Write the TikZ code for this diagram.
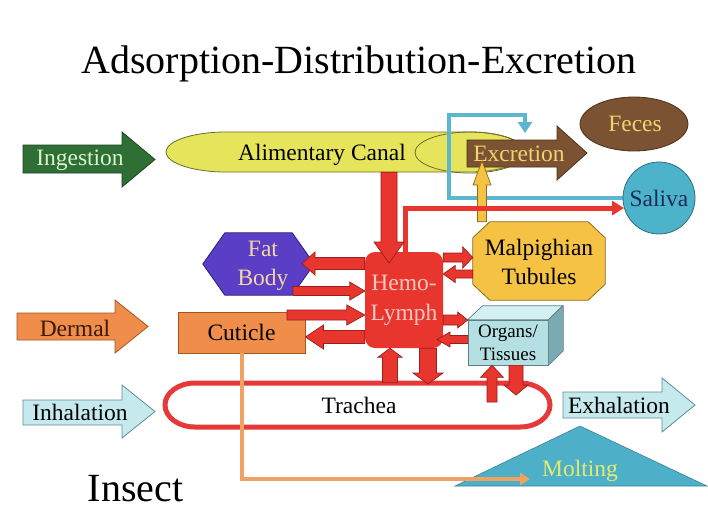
\documentclass[tikz,border=0pt]{standalone}
\usepackage{fontspec}
\setmainfont{Liberation Serif}
\usetikzlibrary{calc,arrows.meta}
\definecolor{hemored}{HTML}{E8352D}
\definecolor{arrdark}{HTML}{9A1E1A}
\definecolor{canalY}{HTML}{E5E45A}
\definecolor{canalD}{HTML}{6E6B2E}
\definecolor{brownF}{HTML}{7B5232}
\definecolor{brownD}{HTML}{4E3218}
\definecolor{brownT}{HTML}{F4D26E}
\definecolor{salB}{HTML}{4DB3CB}
\definecolor{salD}{HTML}{2D6E80}
\definecolor{salT}{HTML}{1B2C55}
\definecolor{malpY}{HTML}{F5C244}
\definecolor{malpD}{HTML}{8C6A18}
\definecolor{fatP}{HTML}{5A3EC6}
\definecolor{fatD}{HTML}{2E1E7A}
\definecolor{fatT}{HTML}{F2D7A6}
\definecolor{cutO}{HTML}{F08D4A}
\definecolor{cutD}{HTML}{A4561E}
\definecolor{orgF}{HTML}{B4E0E4}
\definecolor{orgT}{HTML}{D4F0F2}
\definecolor{orgS}{HTML}{7BABB2}
\definecolor{orgD}{HTML}{5C8288}
\definecolor{ingG}{HTML}{2F6F35}
\definecolor{ingD}{HTML}{1C4420}
\definecolor{ingT}{HTML}{D9F3CF}
\definecolor{dermT}{HTML}{3A1A0A}
\definecolor{inhC}{HTML}{C6E9ED}
\definecolor{inhD}{HTML}{5E8E95}
\definecolor{moltC}{HTML}{4DB0C8}
\definecolor{moltT}{HTML}{E4EA70}
\definecolor{orline}{HTML}{F0A262}
\definecolor{cyanline}{HTML}{5BB7CF}
\definecolor{trachR}{HTML}{E63A3A}
\definecolor{hemoT}{HTML}{F8C8C0}
\tikzset{
  lbl/.style={font=\fontsize{23.5pt}{29pt}\selectfont, inner sep=0pt, align=center},
  smalllbl/.style={font=\fontsize{19pt}{23pt}\selectfont, inner sep=0pt, align=center},
  anchorbox/.style={inner sep=0pt, minimum width=#1},
  blockarr/.style={fill=hemored, draw=arrdark, line width=0.7pt, line join=miter},
  yelarr/.style={fill=malpY, draw=malpD, line width=0.7pt, line join=miter},
  bigarr/.style={line width=0.8pt, line join=miter},
}
\newcommand\barrow[6][]{%
  \coordinate (ba) at (#2);
  \coordinate (bb) at (#3);
  \coordinate (bc) at ($(bb)!#6!(ba)$);
  \draw[blockarr,#1] ($(ba)!#4!90:(bb)$) -- ($(bc)!#4!90:(bb)$) -- ($(bc)!#5!90:(bb)$) -- (bb)
     -- ($(bc)!#5!-90:(bb)$) -- ($(bc)!#4!-90:(bb)$) -- ($(ba)!#4!-90:(bb)$) -- cycle;}
\begin{document}
\begin{tikzpicture}[x=1pt,y=-1pt]
\useasboundingbox (0,0) rectangle (708,531);
\fill[white] (0,0) rectangle (708,531);

% title
\node[font=\fontsize{40pt}{48pt}\selectfont, inner sep=0pt, anchor=base] (title) at (359,73) {Adsorption-Distribution-Excretion};

% alimentary canal
\node[inner sep=0pt, minimum width=359pt, minimum height=40pt] (canal) at (345.5,152) {};
\draw[fill=canalY, draw=canalD, line width=0.8pt]
  (226,132) -- (470,132) .. controls (500.4,132) and (525,140.95) .. (525,152)
  .. controls (525,163.05) and (500.4,172) .. (470,172) -- (226,172)
  .. controls (192.86,172) and (166,163.05) .. (166,152)
  .. controls (166,140.95) and (192.86,132) .. (226,132) -- cycle;
\draw[draw=canalD, line width=0.8pt] (470,152.5) ellipse [x radius=55, y radius=20.5];
\node[lbl] (canallbl) at (322,155) {Alimentary Canal};

% excretion arrow
\draw[bigarr, fill=brownF, draw=brownD] (467,140) -- (557,140) -- (557,126) -- (587,153) -- (557,180) -- (557,167) -- (467,167) -- cycle;
\node[lbl, text=brownT] (excr) at (519,154) {Excretion};

% feces
\draw[fill=brownF, draw=brownD, line width=0.8pt] (634,124) ellipse [x radius=54, y radius=27];
\node[lbl, text=brownT] (fec) at (635,124) {Feces};

% cyan loop saliva -> excretion
\node[circle, inner sep=0pt, minimum size=72pt] (sal) at (659,198) {};
\coordinate (excin) at (525,133);
\draw[cyanline, line width=4pt, -{Triangle[length=11pt,width=14pt]}] (sal.west) -| (449,115) -| (excin);
\node[circle, inner sep=0pt, minimum size=72pt, fill=salB, draw=salD, line width=0.8pt, font=\fontsize{23.5pt}{29pt}\selectfont, text=salT] (saliva) at (659,198) {Saliva};

% malpighian tubules
\node[inner sep=0pt, minimum width=132pt, minimum height=78pt] (malp) at (539,261) {};
\draw[fill=malpY, draw=malpD, line width=0.8pt]
  ($(malp.north west)+(17,0)$) -- ($(malp.north east)+(-17,0)$) -- ($(malp.north east)+(0,16)$)
  -- ($(malp.south east)+(0,-16)$) -- ($(malp.south east)+(-17,0)$) -- ($(malp.south west)+(17,0)$)
  -- ($(malp.south west)+(0,-16)$) -- ($(malp.north west)+(0,16)$) -- cycle;
\node[lbl] (malplbl) at (539,262) {Malpighian\\Tubules};

% yellow arrow malpighian -> excretion
\barrow[yelarr]{malp.north -| 482,0}{482,161}{4.5pt}{9pt}{24pt}

% hemolymph
\node[inner sep=0pt, minimum width=78pt, minimum height=96pt, rounded corners=10pt, fill=hemored, text=hemoT, font=\fontsize{23.5pt}{30pt}\selectfont, align=center] (hemo) at (404,300) {Hemo-\\Lymph};

% red line hemolymph -> saliva
\draw[hemored, line width=5pt, -{Triangle[length=12pt,width=14pt]}] ($(hemo.north)+(1,0)$) |- (saliva.196);

% fat body
\node[inner sep=0pt, minimum width=111pt, minimum height=62pt] (fat) at (258.5,264) {};
\draw[fill=fatP, draw=fatD, line width=0.8pt]
  (fat.west) -- ($(fat.north west)+(22,0)$) -- ($(fat.north east)+(-22,0)$) -- (fat.east)
  -- ($(fat.south east)+(-22,0)$) -- ($(fat.south west)+(22,0)$) -- cycle;
\node[lbl, text=fatT] (fatlbl) at (263,266) {Fat\\Body};

% cuticle
\node[lbl, minimum width=127pt, minimum height=41pt, fill=cutO, draw=cutD, line width=0.8pt] (cut) at (241.5,332.5) {Cuticle};

% organs / tissues
\node[smalllbl, minimum width=80pt, minimum height=45pt, fill=orgF, draw=orgD, line width=0.7pt] (org) at (508,342.5) {Organs/\\Tissues};
\draw[fill=orgT, draw=orgD, line width=0.7pt] (org.north west) -- ++(15,-14) -- ++(80,0) -- (org.north east) -- cycle;
\draw[fill=orgS, draw=orgD, line width=0.7pt] (org.north east) -- ++(15,-14) -- ++(0,45) -- (org.south east) -- cycle;

% trachea
\node[inner sep=0pt, minimum width=385pt, minimum height=44pt] (trach) at (357.5,405) {};
\draw[trachR, fill=white, line width=5pt]
  (195,383) -- (520,383) .. controls (536.57,383) and (550,392.85) .. (550,405)
  .. controls (550,417.15) and (536.57,427) .. (520,427) -- (195,427)
  .. controls (178.43,427) and (165,417.15) .. (165,405)
  .. controls (165,392.85) and (178.43,383) .. (195,383) -- cycle;
\node[lbl] (trachlbl) at (359,405) {Trachea};

% red block arrows
\barrow{canal.south -| 389,0}{389,263}{8pt}{15pt}{21pt}
\barrow{hemo.west |- 0,263.5}{302,263.5}{6pt}{11.5pt}{13pt}
\barrow{293,291}{hemo.west |- 0,291}{4.5pt}{9pt}{15pt}
\barrow{287,315}{hemo.west |- 0,315}{5pt}{10pt}{18pt}
\barrow{hemo.west |- 0,337}{cut.east |- 0,337}{6.5pt}{12pt}{18pt}
\barrow{hemo.east |- 0,257.5}{malp.west |- 0,257.5}{4.5pt}{10.5pt}{10pt}
\barrow{malp.west |- 0,274}{hemo.east |- 0,274}{4pt}{8.5pt}{12pt}
\barrow{hemo.east |- 0,320}{org.west |- 0,320}{5pt}{8pt}{10pt}
\barrow{org.west |- 0,339.5}{437,339.5}{4pt}{7.5pt}{13pt}
\barrow{trach.north -| 390,0}{hemo.south -| 390,0}{7.5pt}{12pt}{9pt}
\barrow{hemo.south -| 428,0}{428,384}{8.5pt}{15pt}{11pt}
\barrow{492,402}{org.south -| 492,0}{5pt}{11.5pt}{12pt}
\barrow{org.south -| 516,0}{516,395}{7pt}{12pt}{10pt}

% entry arrows
\draw[bigarr, fill=ingG, draw=ingD] (23,145) -- (122,145) -- (122,132) -- (155,159.5) -- (122,187) -- (122,173) -- (23,173) -- cycle;
\node[lbl, text=ingT] (ing) at (80,160) {Ingestion};
\draw[bigarr, fill=cutO, draw=cutD] (17,313) -- (115,313) -- (115,300) -- (148,326.5) -- (115,353) -- (115,340) -- (17,340) -- cycle;
\node[lbl, text=dermT] (derm) at (75,328) {Dermal};
\draw[bigarr, fill=inhC, draw=inhD] (23,400) -- (122,400) -- (122,385) -- (155,411.5) -- (122,438) -- (122,425) -- (23,425) -- cycle;
\node[lbl] (inh) at (80,412) {Inhalation};
\draw[bigarr, fill=inhC, draw=inhD] (563,392) -- (662,392) -- (662,378) -- (695,405) -- (662,432) -- (662,418) -- (563,418) -- cycle;
\node[lbl] (exh) at (619,405) {Exhalation};

% molting
\draw[fill=moltC, draw=moltC!75!black, line width=0.6pt] (580,426) -- (707,486) -- (455,486) -- cycle;
\coordinate (moltin) at (530,479);
\draw[orline, line width=4pt, -{Triangle[length=10pt,width=12pt]}] (cut.south -| 242,0) |- (moltin);
\node[lbl, text=moltT] (molt) at (580,471) {Molting};

% insect
\node[font=\fontsize{40pt}{48pt}\selectfont, inner sep=0pt, anchor=base] (insect) at (135.5,501) {Insect};
\end{tikzpicture}
\end{document}
